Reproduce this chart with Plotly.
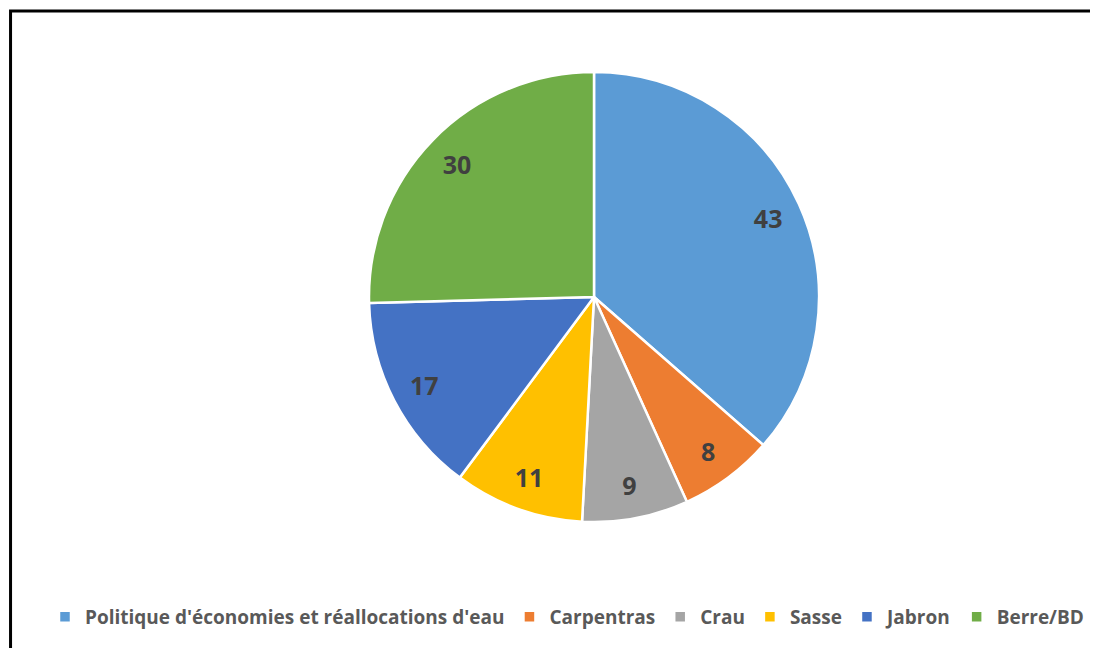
import plotly.graph_objects as go

categories = ["Politique d'économies et réallocations d'eau", "Carpentras", "Crau", "Sasse", "Jabron", "Berre/BD"]
values = [43, 8, 9, 11, 17, 30]
colors = ["#5B9BD5", "#ED7D31", "#A5A5A5", "#FFC000", "#4472C4", "#70AD47"]

W, H = 1098, 648
OFF = 8  # page offset
cx, cy, r = 594 - OFF, 297 - OFF, 225
dom = dict(x=[(cx - r) / W, (cx + r) / W], y=[1 - (cy + r) / H, 1 - (cy - r) / H])

fig = go.Figure()
# coloured full pie
fig.add_trace(go.Pie(
    labels=categories, values=values, sort=False, direction="clockwise", rotation=0,
    marker=dict(colors=colors, line=dict(color="white", width=2.5)),
    textinfo="none", domain=dom, hoverinfo="label+value",
))
# transparent ring used only to place the value labels further out
fig.add_trace(go.Pie(
    labels=categories, values=values, sort=False, direction="clockwise", rotation=0,
    hole=0.7, showlegend=False,
    marker=dict(colors=["rgba(0,0,0,0)"] * len(values), line=dict(width=0)),
    textinfo="value", textposition="inside", insidetextorientation="horizontal",
    textfont=dict(family="Open Sans", size=25, color="#404040", weight="bold"),
    domain=dom, hoverinfo="skip",
))

fig.update_layout(
    width=W, height=H,
    margin=dict(l=0, r=0, t=0, b=0),
    paper_bgcolor="white",
    plot_bgcolor="white",
    showlegend=True,
    legend=dict(
        orientation="h", x=(567 - OFF) / W, xanchor="center", y=1 - (617 - OFF) / H, yanchor="middle",
        font=dict(family="Open Sans", size=19, color="#595959", weight="bold"),
        itemwidth=30, traceorder="normal",
    ),
    shapes=[dict(type="rect", xref="paper", yref="paper",
                 x0=(10 - OFF) / W + 0.0005, x1=1.1, y0=-0.1, y1=1 - (11 - OFF) / H,
                 line=dict(color="black", width=3), fillcolor="rgba(0,0,0,0)")],
)

fig.write_html("out.html")
